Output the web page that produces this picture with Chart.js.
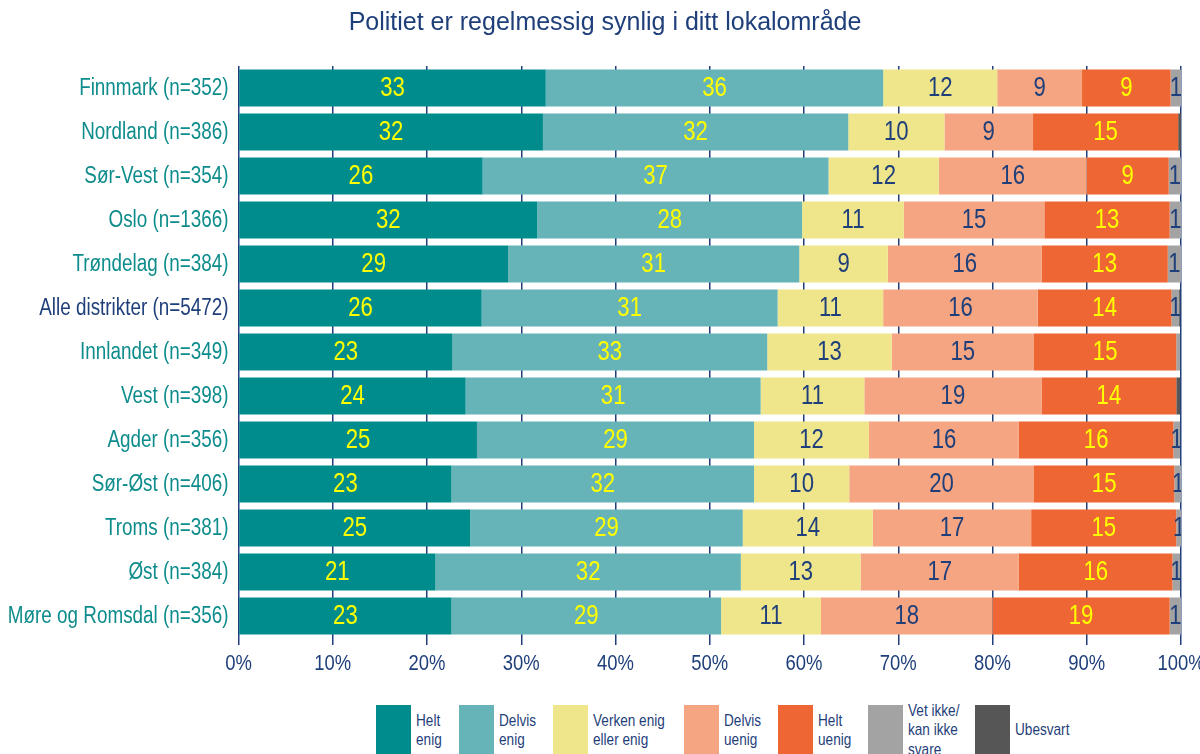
<!DOCTYPE html>
<html lang="no">
<head>
<meta charset="UTF-8">
<title>Politiet er regelmessig synlig i ditt lokalområde</title>
<script src="https://cdn.jsdelivr.net/npm/chart.js"></script>
<style>
  html, body { margin: 0; padding: 0; background: #fff; overflow: hidden; }
  #wrap { position: relative; width: 1200px; height: 754px; overflow: hidden; }
  #box { position: absolute; left: 0; top: 0; width: 1200px; height: 700px; }
  .leg { position: absolute; top: 705px; }
  .leg .sw { position: absolute; left: 0; top: 0; width: 35px; height: 60px; }
  .leg .tx { position: absolute; left: 40px; font: 17px "Liberation Sans", Arial, sans-serif;
             color: #1f3f7a; line-height: 19.5px; white-space: nowrap;
             transform: scaleX(0.8); transform-origin: 0 0; }
</style>
</head>
<body>
<div id="wrap">
  <div id="box"><canvas id="chart"></canvas></div>
  <div id="legend"></div>
</div>

<script>
// categories (top to bottom)
const districts = [
  'Finnmark (n=352)', 'Nordland (n=386)', 'Sør-Vest (n=354)', 'Oslo (n=1366)',
  'Trøndelag (n=384)', 'Alle distrikter (n=5472)', 'Innlandet (n=349)', 'Vest (n=398)',
  'Agder (n=356)', 'Sør-Øst (n=406)', 'Troms (n=381)', 'Øst (n=384)', 'Møre og Romsdal (n=356)'
];

// percent per answer, same order as districts
const heltEnig    = [32.6, 32.3, 25.9, 31.7, 28.6, 25.8, 22.7, 24.1, 25.3, 22.6, 24.6, 20.9, 22.6];
const delvisEnig  = [35.8, 32.4, 36.7, 28.1, 30.9, 31.4, 33.4, 31.3, 29.4, 32.1, 28.9, 32.4, 28.6];
const verken      = [12.1, 10.2, 11.7, 10.8,  9.4, 11.2, 13.2, 11.0, 12.2, 10.1, 13.8, 12.7, 10.6];
const delvisUenig = [ 9.0,  9.4, 15.7, 14.9, 16.3, 16.4, 15.1, 18.8, 15.9, 19.6, 16.8, 16.8, 18.2];
const heltUenig   = [ 9.4, 15.4,  8.7, 13.3, 13.4, 14.2, 15.1, 14.3, 16.4, 14.9, 15.4, 16.3, 18.8];
const vetIkke     = [ 1.1,  0.0,  1.3,  1.2,  1.4,  0.8,  0.4,  0.0,  0.7,  0.8,  0.6,  0.8,  1.2];
const ubesvart    = [ 0.0,  0.3,  0.0,  0.0,  0.0,  0.1,  0.0,  0.4,  0.0,  0.0,  0.0,  0.0,  0.0];

const xTicks = [0, 10, 20, 30, 40, 50, 60, 70, 80, 90, 100];

const NAVY = '#1f3f7a';
const TEAL = '#0e8c8c';
const YELLOW = '#ffff00';
const FONT = '"Liberation Sans", Arial, sans-serif';
const SQUEEZE = 0.82; // no narrow font installed, so text is squeezed sideways

const series = [
  { label: 'Helt enig', legend: ['Helt', 'enig'], data: heltEnig, color: '#008b8d', text: YELLOW, legendX: 376 },
  { label: 'Delvis enig', legend: ['Delvis', 'enig'], data: delvisEnig, color: '#66b4b7', text: YELLOW, legendX: 459 },
  { label: 'Verken enig eller enig', legend: ['Verken enig', 'eller enig'], data: verken, color: '#efe68c', text: NAVY, legendX: 553 },
  { label: 'Delvis uenig', legend: ['Delvis', 'uenig'], data: delvisUenig, color: '#f5a582', text: NAVY, legendX: 684 },
  { label: 'Helt uenig', legend: ['Helt', 'uenig'], data: heltUenig, color: '#ee6633', text: YELLOW, legendX: 778 },
  { label: 'Vet ikke/kan ikke svare', legend: ['Vet ikke/', 'kan ikke', 'svare'], data: vetIkke, color: '#a3a3a3', text: NAVY, legendX: 868 },
  { label: 'Ubesvart', legend: ['Ubesvart'], data: ubesvart, color: '#565656', text: NAVY, legendX: 975, noLabels: true }
];

function squeezedText(ctx, text, x, y) {
  ctx.save();
  ctx.translate(x, y);
  ctx.scale(SQUEEZE, 1);
  ctx.fillText(text, 0, 0);
  ctx.restore();
}

// value labels inside the segments + axis labels in a narrow look
const narrowLabels = {
  id: 'narrowLabels',
  afterDatasetsDraw(chart) {
    const ctx = chart.ctx;
    const area = chart.chartArea;
    ctx.save();
    ctx.beginPath();
    ctx.rect(area.left, area.top, area.right - area.left, area.bottom - area.top);
    ctx.clip();
    ctx.font = '27px ' + FONT;
    ctx.textAlign = 'center';
    ctx.textBaseline = 'middle';
    chart.data.datasets.forEach((ds, i) => {
      const s = series[i];
      if (s.noLabels) return;
      chart.getDatasetMeta(i).data.forEach((bar, j) => {
        const v = ds.data[j];
        if (v < 0.5) return;
        ctx.fillStyle = s.text;
        squeezedText(ctx, String(Math.round(v)), (bar.x + bar.base) / 2, bar.y + 1);
      });
    });
    ctx.restore();
  },
  afterDraw(chart) {
    const ctx = chart.ctx;
    const xs = chart.scales.x, ys = chart.scales.y;
    ctx.save();
    ctx.textBaseline = 'middle';
    ctx.font = '23px ' + FONT;
    ctx.textAlign = 'right';
    chart.data.labels.forEach((lab, i) => {
      ctx.fillStyle = lab.startsWith('Alle') ? NAVY : TEAL;
      squeezedText(ctx, lab, ys.right - 10, ys.getPixelForValue(i) + 1);
    });
    ctx.font = '22.5px ' + FONT;
    ctx.textAlign = 'center';
    ctx.fillStyle = NAVY;
    xTicks.forEach(v => {
      squeezedText(ctx, v + '%', xs.getPixelForValue(v), xs.top + 26);
    });
    ctx.restore();
  }
};

new Chart(document.getElementById('chart'), {
  type: 'bar',
  data: {
    labels: districts,
    datasets: series.map(s => ({
      label: s.label,
      data: s.data,
      backgroundColor: s.color,
      borderWidth: 0,
      barPercentage: 0.84,
      categoryPercentage: 1
    }))
  },
  options: {
    indexAxis: 'y',
    responsive: true,
    maintainAspectRatio: false,
    animation: false,
    layout: { padding: { left: 29, right: 19, top: 0, bottom: 22 } },
    plugins: {
      legend: { display: false },
      tooltip: { enabled: false },
      title: {
        display: true,
        text: 'Politiet er regelmessig synlig i ditt lokalområde',
        color: NAVY,
        font: { family: FONT, size: 25, weight: 'normal' },
        padding: { top: 8, bottom: 28 }
      }
    },
    scales: {
      x: {
        stacked: true,
        min: 0,
        max: 100,
        afterBuildTicks: scale => { scale.ticks = xTicks.map(v => ({ value: v })); },
        afterFit: scale => { scale.height = 40; },
        ticks: { display: false },
        grid: { color: NAVY, lineWidth: 1.5, tickLength: 7 },
        border: { display: false }
      },
      y: {
        stacked: true,
        afterFit: scale => { scale.width = 209.5; },
        ticks: { display: false },
        grid: { display: false },
        border: { display: false }
      }
    }
  },
  plugins: [narrowLabels]
});

// legend below the chart
const legendEl = document.getElementById('legend');
series.forEach(s => {
  const item = document.createElement('div');
  item.className = 'leg';
  item.style.left = s.legendX + 'px';
  const sw = document.createElement('div');
  sw.className = 'sw';
  sw.style.background = s.color;
  const tx = document.createElement('div');
  tx.className = 'tx';
  tx.style.top = (25 - s.legend.length * 9.75) + 'px';
  tx.innerHTML = s.legend.join('<br>');
  item.appendChild(sw);
  item.appendChild(tx);
  legendEl.appendChild(item);
});
</script>
</body>
</html>
